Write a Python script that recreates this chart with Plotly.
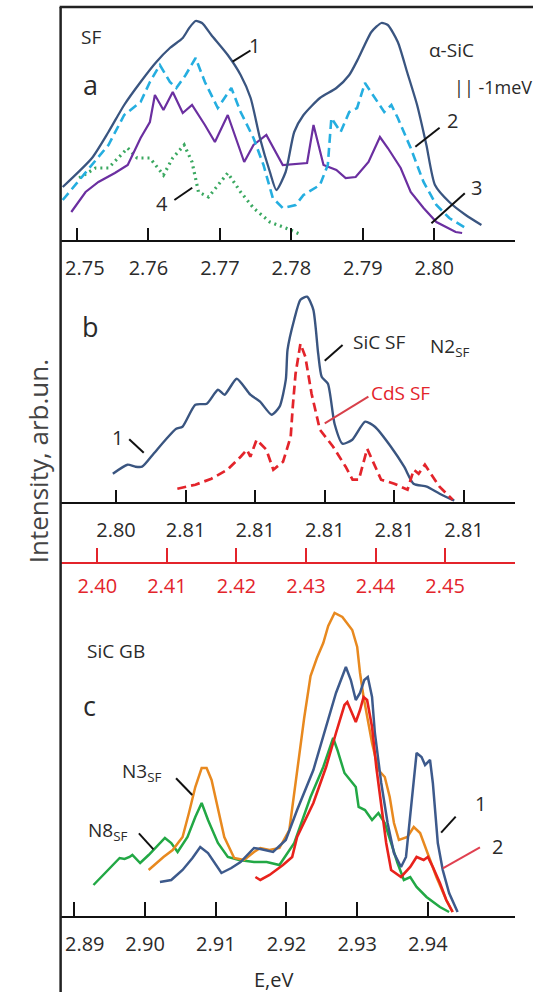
import plotly.graph_objects as go

# ---------------- data ----------------
# panel a : alpha-SiC SF spectra (E in eV, intensity arb. units)
a1_e = [2.7480, 2.7521, 2.7544, 2.7566, 2.7589, 2.7611, 2.7630, 2.7648, 2.7657, 2.7666, 2.7675, 2.7688,
        2.7711, 2.7729, 2.7743, 2.7756, 2.7770, 2.7779, 2.7792, 2.7804, 2.7817, 2.7840, 2.7863, 2.7881,
        2.7894, 2.7912, 2.7926, 2.7935, 2.7949, 2.7962, 2.7976, 2.7989, 2.8001, 2.8021, 2.8044, 2.8066]
a1_i = [53, 82, 108, 135, 158, 178, 192, 202, 212, 219, 217, 205, 185, 165, 142, 102, 68, 50, 68, 108,
        125, 142, 152, 165, 182, 208, 217, 215, 198, 168, 135, 95, 55, 38, 25, 15]

a2_e = [2.7480, 2.7512, 2.7544, 2.7566, 2.7589, 2.7602, 2.7616, 2.7630, 2.7639, 2.7652, 2.7666, 2.7679,
        2.7697, 2.7716, 2.7729, 2.7747, 2.7761, 2.7774, 2.7788, 2.7806, 2.7817, 2.7840, 2.7851, 2.7856,
        2.7869, 2.7881, 2.7892, 2.7903, 2.7917, 2.7930, 2.7940, 2.7949, 2.7967, 2.7985, 2.8003, 2.8021, 2.8044]
a2_i = [40, 68, 95, 125, 138, 158, 175, 158, 152, 165, 182, 158, 132, 152, 128, 102, 75, 42, 32, 35,
        45, 55, 75, 122, 108, 128, 132, 157, 142, 128, 135, 122, 92, 58, 35, 22, 12]

a3_e = [2.7492, 2.7512, 2.7530, 2.7553, 2.7571, 2.7589, 2.7602, 2.7609, 2.7621, 2.7634, 2.7648, 2.7661,
        2.7679, 2.7693, 2.7711, 2.7734, 2.7747, 2.7765, 2.7788, 2.7822, 2.7831, 2.7845, 2.7863, 2.7876,
        2.7890, 2.7908, 2.7924, 2.7935, 2.7953, 2.7967, 2.7985, 2.8003, 2.8030, 2.8039]
a3_i = [28, 48, 58, 67, 75, 102, 118, 145, 130, 148, 127, 135, 115, 98, 125, 78, 95, 105, 75, 77,
        115, 75, 70, 62, 63, 78, 103, 92, 72, 48, 32, 18, 8, 7]

a4_e = [2.7503, 2.7526, 2.7544, 2.7571, 2.7584, 2.7602, 2.7621, 2.7634, 2.7650, 2.7661, 2.7670, 2.7684,
        2.7711, 2.7729, 2.7747, 2.7770, 2.7792, 2.7815]
a4_i = [62, 72, 72, 92, 82, 82, 65, 82, 95, 78, 48, 43, 67, 48, 32, 18, 12, 5]

a_ticks = [2.75, 2.76, 2.77, 2.78, 2.79, 2.80]
a_ticklabels = ["\u00a0\u00a0\u00a02.75", "2.76", "2.77", "2.78", "2.79", "2.80"]

# panel b : SiC SF (top scale) and CdS SF (red scale)
b1_e = [2.79991, 2.80033, 2.80056, 2.80075, 2.80108, 2.80145, 2.80173, 2.80191, 2.80228, 2.80261,
        2.80293, 2.80312, 2.80347, 2.80386, 2.80414, 2.80447, 2.80470, 2.80488, 2.80493, 2.80512,
        2.80530, 2.80549, 2.80567, 2.80581, 2.80591, 2.80609, 2.80628, 2.80651, 2.80679, 2.80716,
        2.80744, 2.80790, 2.80828, 2.80855, 2.80893, 2.80930, 2.80972]
b1_i = [28, 37, 35, 35, 48, 63, 73, 75, 97, 98, 112, 107, 123, 107, 100, 87, 95, 122, 152, 182,
        202, 205, 192, 148, 125, 118, 78, 58, 62, 80, 75, 55, 35, 18, 15, 8, 1]

b2_e = [2.4115, 2.4141, 2.4164, 2.4187, 2.4206, 2.4215, 2.4220, 2.4229, 2.4243, 2.4253, 2.4267, 2.4278,
        2.4281, 2.4285, 2.4292, 2.4299, 2.4308, 2.4320, 2.4339, 2.4357, 2.4367, 2.4376, 2.4388, 2.4399,
        2.4408, 2.4427, 2.4446, 2.4455, 2.4462, 2.4471, 2.4480, 2.4492, 2.4511]
b2_i = [13, 17, 23, 32, 45, 52, 45, 62, 52, 32, 40, 65, 95, 128, 158, 145, 108, 72, 55, 35,
        22, 22, 53, 35, 22, 18, 12, 32, 28, 37, 28, 15, 2]

b_ticks = [2.800, 2.802, 2.804, 2.806, 2.808, 2.810]
b_ticklabels = ["2.80", "2.81", "2.81", "2.81", "2.81", "2.81"]
b_red_ticks = [2.40, 2.41, 2.42, 2.43, 2.44, 2.45]
b_red_ticklabels = ["2.40", "2.41", "2.42", "2.43", "2.44", "2.45"]

# panel c : SiC GB spectra
c_green_e = [2.8927, 2.8948, 2.8964, 2.8971, 2.8978, 2.8982, 2.8993, 2.9005, 2.9016, 2.9028, 2.9037,
             2.9046, 2.9060, 2.9071, 2.9080, 2.9089, 2.9103, 2.9117, 2.9133, 2.9154, 2.9172, 2.9190,
             2.9211, 2.9234, 2.9252, 2.9266, 2.9272, 2.9282, 2.9298, 2.9302, 2.9311, 2.9321, 2.9330,
             2.9339, 2.9348, 2.9357, 2.9366, 2.9375, 2.9384, 2.9398, 2.9417, 2.9430]
c_green_i = [31, 46, 58, 57, 59, 61, 53, 61, 69, 78, 73, 64, 79, 99, 113, 96, 73, 59, 56, 54, 54, 51,
             73, 119, 149, 178, 166, 143, 129, 109, 106, 96, 103, 93, 73, 53, 36, 39, 29, 19, 9, 4]

c_orange_e = [2.9005, 2.9026, 2.9039, 2.9053, 2.9062, 2.9071, 2.9080, 2.9087, 2.9094, 2.9103, 2.9112,
              2.9126, 2.9140, 2.9154, 2.9163, 2.9176, 2.9190, 2.9204, 2.9215, 2.9225, 2.9234, 2.9243,
              2.9252, 2.9259, 2.9268, 2.9279, 2.9293, 2.9300, 2.9304, 2.9309, 2.9321, 2.9330, 2.9339,
              2.9346, 2.9352, 2.9359, 2.9371, 2.9380, 2.9389, 2.9398, 2.9412, 2.9426, 2.9435]
c_orange_i = [46, 59, 66, 79, 103, 129, 148, 148, 136, 106, 79, 58, 56, 64, 68, 66, 68, 86, 146, 198,
              240, 258, 273, 290, 303, 299, 286, 269, 243, 219, 173, 146, 139, 119, 93, 76, 79, 89,
              83, 66, 39, 16, 4]

c_blue_e = [2.9021, 2.9037, 2.9053, 2.9067, 2.9078, 2.9089, 2.9108, 2.9122, 2.9135, 2.9154, 2.9163,
            2.9181, 2.9199, 2.9215, 2.9238, 2.9256, 2.9270, 2.9284, 2.9291, 2.9298, 2.9304, 2.9310,
            2.9315, 2.9321, 2.9325, 2.9334, 2.9343, 2.9352, 2.9362, 2.9369, 2.9378, 2.9384, 2.9391,
            2.9396, 2.9403, 2.9407, 2.9414, 2.9421, 2.9430, 2.9442]
c_blue_i = [34, 36, 46, 58, 69, 63, 43, 48, 54, 68, 67, 64, 76, 106, 146, 189, 223, 249, 236, 216,
            223, 236, 239, 219, 183, 133, 93, 63, 49, 59, 119, 163, 159, 151, 156, 133, 73, 46, 23, 4]

c_red_e = [2.9156, 2.9163, 2.9176, 2.9195, 2.9208, 2.9215, 2.9238, 2.9256, 2.9270, 2.9282, 2.9286,
           2.9293, 2.9298, 2.9304, 2.9309, 2.9314, 2.9321, 2.9327, 2.9334, 2.9341, 2.9348, 2.9362,
           2.9375, 2.9384, 2.9394, 2.9400, 2.9407, 2.9417, 2.9426, 2.9435]
c_red_i = [39, 36, 41, 51, 59, 79, 113, 149, 183, 211, 214, 203, 194, 206, 219, 216, 189, 149, 113, 73,
           46, 39, 49, 59, 56, 59, 49, 33, 16, 4]

c_ticks = [2.89, 2.90, 2.91, 2.92, 2.93, 2.94]
c_ticklabels = ["\u00a0\u00a0\u00a0\u00a02.89", "2.90", "2.91", "2.92", "2.93", "2.94"]

# ---------------- figure ----------------
W, H = 533, 992
FONT = "Open Sans"
NAVY = "#3a5580"
TXT = "#2a2a2a"


def fx(x):
    return x / W


def fy(y):
    return 1 - y / H


fig = go.Figure()

# panel a
fig.add_trace(go.Scatter(x=a4_e, y=a4_i, mode="lines", xaxis="x", yaxis="y",
                         line=dict(color="#3aa860", width=3.2, dash="2px,4px")))
fig.add_trace(go.Scatter(x=a3_e, y=a3_i, mode="lines", xaxis="x", yaxis="y",
                         line=dict(color="#6b2fa0", width=2.2)))
fig.add_trace(go.Scatter(x=a2_e, y=a2_i, mode="lines", xaxis="x", yaxis="y",
                         line=dict(color="#25aee0", width=2.6, dash="9px,5px")))
fig.add_trace(go.Scatter(x=a1_e, y=a1_i, mode="lines", xaxis="x", yaxis="y", line_shape="spline",
                         line=dict(color=NAVY, width=2.3, smoothing=0.6)))
# panel b
fig.add_trace(go.Scatter(x=b1_e, y=b1_i, mode="lines", xaxis="x2", yaxis="y2", line_shape="spline",
                         line=dict(color=NAVY, width=2.4, smoothing=0.6)))
fig.add_trace(go.Scatter(x=b2_e, y=b2_i, mode="lines", xaxis="x3", yaxis="y2",
                         line=dict(color="#e3242b", width=2.7, dash="9px,5px")))
# panel c
fig.add_trace(go.Scatter(x=c_green_e, y=c_green_i, mode="lines", xaxis="x4", yaxis="y4",
                         line=dict(color="#22a845", width=2.5)))
fig.add_trace(go.Scatter(x=c_orange_e, y=c_orange_i, mode="lines", xaxis="x4", yaxis="y4",
                         line=dict(color="#e8891f", width=2.5)))
fig.add_trace(go.Scatter(x=c_blue_e, y=c_blue_i, mode="lines", xaxis="x4", yaxis="y4",
                         line=dict(color="#3d5a8c", width=2.5)))
fig.add_trace(go.Scatter(x=c_red_e, y=c_red_i, mode="lines", xaxis="x4", yaxis="y4",
                         line=dict(color="#e8221c", width=2.6)))

xdom = [fx(46), fx(514)]


def xax(rng, vals, texts, anchor, ticklen, standoff, color="#111111", tcolor=TXT):
    return dict(domain=xdom, range=rng, anchor=anchor, showline=True, linecolor=color, linewidth=2,
                ticks="inside", ticklen=ticklen, tickwidth=2, tickcolor=color,
                tickmode="array", tickvals=vals, ticktext=texts,
                tickfont=dict(family=FONT, size=20, color=tcolor),
                showgrid=False, zeroline=False, ticklabelstandoff=standoff, fixedrange=True)


def yax(dom, rng):
    return dict(domain=dom, range=rng, visible=False, showgrid=False, zeroline=False, fixedrange=True)


fig.update_layout(
    width=W, height=H, margin=dict(l=0, r=0, t=0, b=0),
    paper_bgcolor="white", plot_bgcolor="rgba(0,0,0,0)", showlegend=False,
    xaxis=xax([2.747706, 2.811241], a_ticks, a_ticklabels, "y", 12, 9),
    yaxis=yax([fy(240), fy(7)], [0, 233]),
    xaxis2=xax([2.798409, 2.811453], b_ticks, b_ticklabels, "y2", 12, 9),
    yaxis2=yax([fy(501.7), fy(280)], [0, 221.7]),
    xaxis3=dict(xax([2.394713, 2.459995], b_red_ticks, b_red_ticklabels, "free", 14, 5,
                    color="#e3242b", tcolor="#e3242b"),
                overlaying="x2", position=fy(563.2), side="bottom"),
    xaxis4=xax([2.888052, 2.952258], c_ticks, c_ticklabels, "y4", 14, 9),
    yaxis4=yax([fy(916), fy(600)], [0, 316]),
)

# frame lines (left and top)
shapes = [
    dict(type="line", xref="paper", yref="paper", x0=fx(46), x1=fx(46), y0=fy(7), y1=0,
         line=dict(color="#222222", width=2.5)),
    dict(type="line", xref="paper", yref="paper", x0=fx(45), x1=1, y0=fy(7), y1=fy(7),
         line=dict(color="#222222", width=2.5)),
]

# leader lines
leaders = [
    ((223.3, 61.7), (241.7, 50.5), "#111111"),
    ((163.3, 200), (181.7, 187.7), "#111111"),
    ((411.7, 146.7), (436.7, 127.7), "#111111"),
    ((428.3, 223.3), (462.7, 193.3), "#111111"),
    ((116.7, 439.3), (131.7, 452.7), "#111111"),
    ((318.3, 360.7), (336.7, 345), "#111111"),
    ((318.3, 423.3), (363.3, 396.7), "#d8404a"),
    ((165, 778.3), (181.7, 795), "#111111"),
    ((126.7, 833.3), (141.7, 849.3), "#111111"),
    ((438.3, 832.7), (453.3, 816.7), "#111111"),
    ((440, 868.3), (478.3, 847.3), "#e04050"),
]
for (x0, y0), (x1, y1), c in leaders:
    shapes.append(dict(type="line", xref="paper", yref="paper", x0=fx(x0), y0=fy(y0), x1=fx(x1), y1=fy(y1),
                       line=dict(color=c, width=2)))
fig.update_layout(shapes=shapes)

texts = [
    ("SF", 77.3, 37.3, 19, TXT),
    ("a", 76.7, 84.3, 27, TXT),
    ("1", 246, 45, 20, TXT),
    ("4", 150.7, 203.3, 20, TXT),
    ("α-SiC", 448.5, 49.5, 19, TXT),
    ("|| -1meV", 492, 87, 18, TXT),
    ("2", 450, 120, 20, TXT),
    ("3", 475, 188, 20, TXT),
    ("b", 76.7, 326, 27, TXT),
    ("1", 105, 437.5, 20, TXT),
    ("SiC SF", 375, 342.5, 19, TXT),
    ("N2<sub>SF</sub>", 447, 347, 19, TXT),
    ("CdS SF", 396, 392.5, 19, "#e3242b"),
    ("SiC GB", 103.3, 650.5, 19, TXT),
    ("c", 75.8, 705, 27, TXT),
    ("N3<sub>SF</sub>", 129, 772, 19, TXT),
    ("N8<sub>SF</sub>", 94, 830.5, 19, TXT),
    ("1", 478.5, 803.3, 20, TXT),
    ("2", 496.7, 846, 20, TXT),
    ("E,eV", 266, 979.5, 20, TXT),
]
anns = []
for t, x, y, s, c in texts:
    anns.append(dict(text=t, x=fx(x), y=fy(y), xref="paper", yref="paper", showarrow=False,
                     xanchor="center", yanchor="middle", font=dict(family=FONT, size=s, color=c)))
anns.append(dict(text="Intensity, arb.un.", x=fx(23), y=fy(461), xref="paper", yref="paper",
                 showarrow=False, textangle=-90, xanchor="center", yanchor="middle",
                 font=dict(family=FONT, size=26, color="#444444")))
fig.update_layout(annotations=anns)

fig.write_html("out.html")
